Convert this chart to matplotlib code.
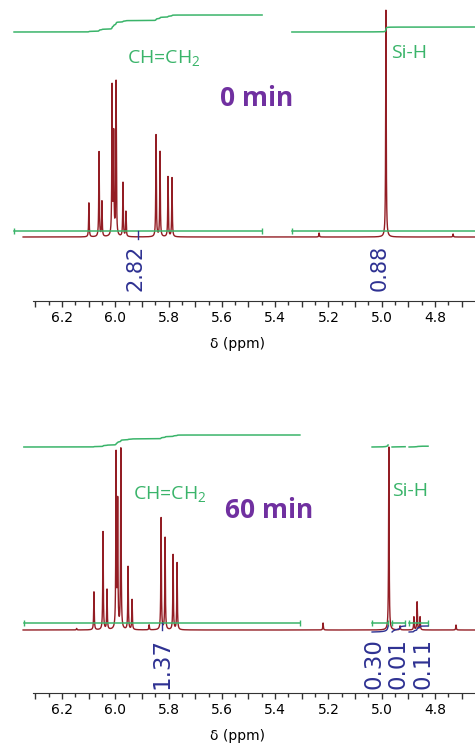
import numpy as np
import matplotlib
matplotlib.use("Agg")
import matplotlib.pyplot as plt
from matplotlib.ticker import FixedLocator, FuncFormatter

plt.rcParams["mathtext.fontset"] = "custom"
plt.rcParams["mathtext.rm"] = "Open Sans"

# -------------------------------
# Peak lists (ppm, height)
# -------------------------------

peaks_0_ppm = [6.099, 6.061, 6.050, 6.012, 6.006, 5.997, 5.971, 5.960,
               5.847, 5.832, 5.802, 5.787, 5.235, 4.984, 4.732]
peaks_0_int = [34, 85, 35, 149, 100, 154, 54, 25,
               102, 85, 60, 59, 4, 227, 3]

peaks_60_ppm = [6.145, 6.080, 6.046, 6.031, 5.997, 5.991, 5.979, 5.952, 5.937,
                5.873, 5.828, 5.813, 5.783, 5.768, 5.220, 4.973, 4.931,
                4.879, 4.867, 4.856, 4.721]
peaks_60_int = [1.5, 38, 98, 40, 174, 125, 180, 63, 30,
                5, 112, 92, 75, 67, 7, 183, 4,
                13, 28, 13, 5]

# integration regions (ppm from, ppm to) and integral step heights
regions_0 = [(6.38, 5.449), (5.337, 4.60)]
rise_0 = [17, 5]
values_0 = ["2.82", "0.88"]
label_ppm_0 = [5.925, 5.006]

regions_60 = [(6.343, 5.307), (5.036, 4.976), (4.961, 4.912), (4.897, 4.826)]
rise_60 = [12, 2.0, 0.3, 0.8]
values_60 = ["1.37", "0.30", "0.01", "0.11"]
label_ppm_60 = [5.825, 5.029, 4.939, 4.845]

tick_labels = ["6.2", "6.0", "5.8", "5.6", "5.4", "5.2", "5.0", "4.8"]

RED = "#931d24"
GREEN = "#3ab46a"
BLUE = "#2e3192"
PURPLE = "#7030a0"

XLIM = (6.4327, 4.6497)
HWHM = 0.0012


def spectrum(ppm, centers, heights):
    y = np.zeros_like(ppm)
    for c, h in zip(centers, heights):
        y += h / (1 + ((ppm - c) / HWHM) ** 2)
    return y


def integral(centers, heights, a, b, rise):
    xs = np.linspace(a, b, 3000)
    s = np.cumsum(spectrum(xs, centers, heights))
    return xs, s / s[-1] * rise


def style_axis(ax, ylim):
    ax.set_xlim(*XLIM)
    ax.set_ylim(*ylim)
    for side in ["left", "right", "top"]:
        ax.spines[side].set_visible(False)
    ax.spines["bottom"].set_bounds(6.309, XLIM[1])
    ax.spines["bottom"].set_color("#333333")
    ax.set_yticks([])
    ax.xaxis.set_major_locator(FixedLocator(np.round(np.arange(6.3, 4.65, -0.1), 2)))
    ax.xaxis.set_minor_locator(FixedLocator(np.round(np.arange(6.25, 4.65, -0.1), 2)))
    ax.xaxis.set_major_formatter(FuncFormatter(
        lambda v, p: "%.1f" % v if "%.1f" % v in tick_labels else ""))
    ax.tick_params(axis="x", which="major", length=4, width=1,
                   direction="out", pad=3, labelsize=10, color="#333333")
    ax.tick_params(axis="x", which="minor", length=3, width=1,
                   direction="out", color="#333333")
    ax.set_xlabel("\u03b4 (ppm)", fontsize=10, labelpad=9)
    ax.patch.set_alpha(0)


fig = plt.figure(figsize=(4.75, 7.49), dpi=100)
grid = np.linspace(6.346, 4.60, 16000)

# -------------------------------
# 0 min
# -------------------------------

ax1 = fig.add_axes([0, 1 - 301 / 749, 1, 301 / 749])
style_axis(ax1, (-64, 237))

ax1.plot(grid, spectrum(grid, peaks_0_ppm, peaks_0_int), color=RED, lw=1.0)

for (a, b), r in zip(regions_0, rise_0):
    xs, ys = integral(peaks_0_ppm, peaks_0_int, a, b, r)
    ax1.plot(xs, 205 + ys, color=GREEN, lw=1.1)
    ax1.plot([a, b], [6, 6], color=GREEN, lw=1.1, marker="|", ms=4)

for t, p in zip(values_0, label_ppm_0):
    ax1.text(p, -8, t, rotation=90, ha="center", va="top",
             fontsize=15, color=BLUE)
ax1.plot([5.915, 5.915], [6, -2], color=BLUE, lw=1)

ax1.text(5.817, 178, "CH=CH$_2$", color=GREEN, fontsize=14, family="Open Sans",
         ha="center", va="center")
ax1.text(4.897, 184, "Si-H", color=GREEN, fontsize=14, family="Open Sans",
         ha="center", va="center")
ax1.text(5.47, 139, "0 min", color=PURPLE, fontsize=19, family="Open Sans",
         fontweight="bold", ha="center", va="center")

# -------------------------------
# 60 min
# -------------------------------

ax2 = fig.add_axes([0, 1 - 693 / 749, 1, 293 / 749])
style_axis(ax2, (-63, 230))

ax2.plot(grid, spectrum(grid, peaks_60_ppm, peaks_60_int), color=RED, lw=1.0)

for i, ((a, b), r) in enumerate(zip(regions_60, rise_60)):
    xs, ys = integral(peaks_60_ppm, peaks_60_int, a, b, r)
    ax2.plot(xs, 183 + ys, color=GREEN, lw=1.1)
    ax2.plot([a, b], [7, 7], color=GREEN, lw=1.1, marker="|", ms=4)
    if i > 0:
        ax2.plot(xs, -2 + ys / r * 6, color=BLUE, lw=1)

for t, p in zip(values_60, label_ppm_60):
    ax2.text(p, -8, t, rotation=90, ha="center", va="top",
             fontsize=16.5, color=BLUE)
ax2.plot([5.825, 5.825], [7, 0], color=BLUE, lw=1)

ax2.text(5.795, 135, "CH=CH$_2$", color=GREEN, fontsize=14, family="Open Sans",
         ha="center", va="center")
ax2.text(4.894, 139, "Si-H", color=GREEN, fontsize=14, family="Open Sans",
         ha="center", va="center")
ax2.text(5.423, 119, "60 min", color=PURPLE, fontsize=19, family="Open Sans",
         fontweight="bold", ha="center", va="center")

fig.savefig("out.png", dpi=100)
